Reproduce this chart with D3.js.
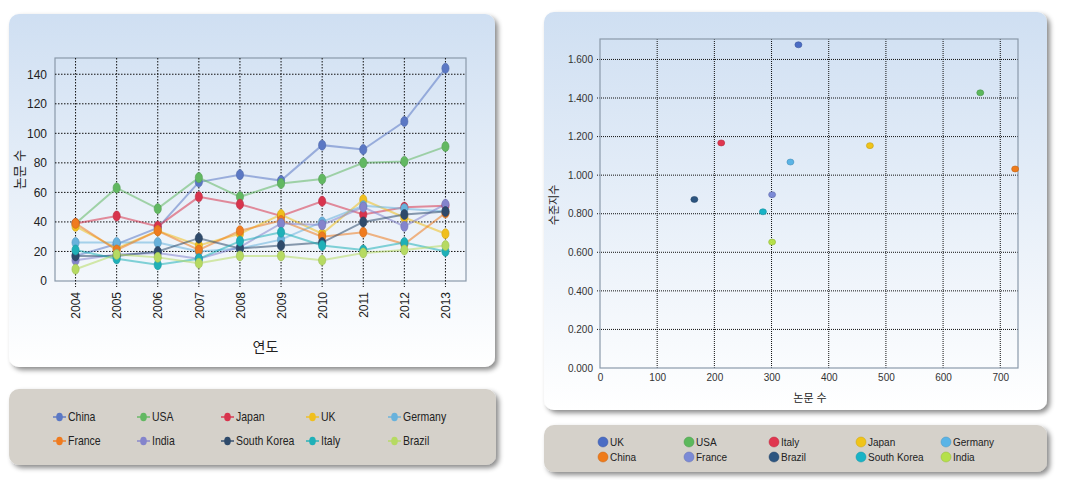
<!DOCTYPE html>
<html lang="ko">
<head>
<meta charset="utf-8">
<title>논문 수 / 수준지수</title>
<script src="https://cdn.jsdelivr.net/npm/d3@7"></script>
<style>
  body { margin:0; background:#fff; }
  svg text { font-family: "Liberation Sans", Arial, sans-serif; }
</style>
</head>
<body>
<script>
// ---- line chart data (논문 수 by 연도)
const years = [2004,2005,2006,2007,2008,2009,2010,2011,2012,2013];
const lineNames = ["China","USA","Japan","UK","Germany","France","India","South Korea","Italy","Brazil"];
const lineColors = ["#5b78c4","#62b862","#d8344d","#f0bf1e","#68b2dc","#ef7b1f","#8484cc","#2e4a6b","#1fb0b8","#b6da62"];
const china   = [17,25,36,67,72,68,92,89,108,144];
const usa     = [39,63,49,70,57,66,69,80,81,91];
const japan   = [39,44,37,57,52,44,54,45,50,51];
const uk      = [37,22,34,24,32,45,32,55,43,32];
const germany = [26,26,26,20,22,28,40,51,49,47];
const france  = [39,21,34,21,34,41,30,33,25,46];
const india   = [14,18,19,15,23,39,38,50,37,52];
const skorea  = [17,17,20,29,22,24,26,40,45,47];
const italy   = [21,15,11,15,27,33,24,21,26,20];
const brazil  = [8,18,16,12,17,17,14,19,21,24];
const lineValues = [china,usa,japan,uk,germany,france,india,skorea,italy,brazil];
const yTicksL = [0,20,40,60,80,100,120,140];

// ---- scatter data (논문 수 vs 수준지수)
const dotNames  = ["UK","USA","Italy","Japan","Germany","China","France","Brazil","South Korea","India"];
const dotColors = ["#4a6cc4","#5cb85c","#e0364f","#f0c419","#5ab4e6","#ef7b1a","#7b8ad6","#2d5580","#19b3c6","#b5e04a"];
const papers    = [347,665,212,472,333,726,301,165,285,301];
const level     = [1.676,1.427,1.167,1.153,1.068,1.032,0.899,0.874,0.810,0.653];
const xTicksR = [0,100,200,300,400,500,600,700];
const yTicksR = [0,0.2,0.4,0.6,0.8,1.0,1.2,1.4,1.6];

const W = 1065, H = 491;
const svg = d3.select("body").append("svg").attr("width",W).attr("height",H);
const defs = svg.append("defs");

const grad = defs.append("linearGradient").attr("id","panelGrad").attr("x1",0).attr("y1",0).attr("x2",0).attr("y2",1);
grad.append("stop").attr("offset","0%").attr("stop-color","#cfdff2");
grad.append("stop").attr("offset","100%").attr("stop-color","#ffffff");

const shadow = defs.append("filter").attr("id","shadow").attr("x","-5%").attr("y","-5%").attr("width","115%").attr("height","120%");
shadow.append("feDropShadow").attr("dx",3).attr("dy",3).attr("stdDeviation",2.5).attr("flood-color","#000").attr("flood-opacity",0.45);

function panel(x,y,w,h,fill){
  svg.append("rect").attr("x",x).attr("y",y).attr("width",w).attr("height",h)
    .attr("rx",10).attr("fill",fill).attr("filter","url(#shadow)");
}

panel(9,14,486,353,"url(#panelGrad)");
panel(9,389,487,76,"#d5d1ca");
panel(544,12,503,398,"url(#panelGrad)");
panel(544,425,503,47,"#d5d1ca");

// ================= LEFT: line chart =================
{
  const L = {left:55, right:466, top:58, bottom:281};
  const x = d3.scalePoint().domain(years).range([L.left,L.right]).padding(0.5);
  const y = d3.scaleLinear().domain([0,151]).range([L.bottom,L.top]);
  const g = svg.append("g");

  g.append("rect").attr("x",L.left).attr("y",L.top).attr("width",L.right-L.left).attr("height",L.bottom-L.top)
    .attr("fill","none").attr("stroke","#8a99aa").attr("stroke-width",1.2);

  g.selectAll(".hg").data(yTicksL.filter(d=>d>0)).join("line")
    .attr("x1",L.left).attr("x2",L.right).attr("y1",d=>y(d)).attr("y2",d=>y(d))
    .attr("stroke","#111").attr("stroke-dasharray","1.5,1.5").attr("stroke-width",1);
  g.selectAll(".vg").data(years).join("line")
    .attr("x1",d=>x(d)).attr("x2",d=>x(d)).attr("y1",L.top).attr("y2",L.bottom+6)
    .attr("stroke","#111").attr("stroke-dasharray","1.5,1.5").attr("stroke-width",1);

  const ya = g.append("g").attr("transform",`translate(${L.left},0)`)
    .call(d3.axisLeft(y).tickValues(yTicksL).tickSize(0).tickPadding(8));
  ya.select(".domain").remove();
  ya.selectAll("text").attr("font-size",12).attr("fill","#222");

  const xa = g.append("g").attr("transform",`translate(0,${L.bottom})`)
    .call(d3.axisBottom(x).tickSize(0).tickFormat(d3.format("d")));
  xa.select(".domain").remove();
  xa.selectAll("text").attr("font-size",12).attr("fill","#222")
    .attr("transform","rotate(-90)").attr("text-anchor","end").attr("dx","-11").attr("dy","0.35em")
    .attr("x",0).attr("y",0);

  svg.append("text").attr("transform",`translate(24,${(L.top+L.bottom)/2}) rotate(-90)`)
    .attr("text-anchor","middle").attr("font-size",13).attr("fill","#222")
    .style("font-family","'Noto Sans CJK KR', sans-serif").text("논문 수");
  svg.append("text").attr("x",(L.left+L.right)/2+5).attr("y",352)
    .attr("text-anchor","middle").attr("font-size",14).attr("fill","#222")
    .style("font-family","'Noto Sans CJK KR', sans-serif").text("연도");

  const line = d3.line().x((d,i)=>x(years[i])).y(d=>y(d));
  lineValues.forEach((vals,k)=>{
    g.append("path").attr("d",line(vals)).attr("fill","none")
      .attr("stroke",lineColors[k]).attr("stroke-width",2).attr("stroke-opacity",0.55);
  });
  lineValues.forEach((vals,k)=>{
    g.selectAll(null).data(vals).join("ellipse")
      .attr("cx",(d,i)=>x(years[i])).attr("cy",d=>y(d)).attr("rx",3.6).attr("ry",5)
      .attr("fill",lineColors[k]).attr("stroke",d3.color(lineColors[k]).darker(0.4)).attr("stroke-width",0.6);
  });

  // legend
  const cols = [53,137,221,306,388], rows = [417,441];
  const lg = svg.append("g");
  lineNames.forEach((n,k)=>{
    const cx = cols[k%5], cy = rows[Math.floor(k/5)];
    const it = lg.append("g").attr("transform",`translate(${cx},${cy})`);
    it.append("line").attr("x1",0).attr("x2",13).attr("stroke",lineColors[k]).attr("stroke-width",2).attr("stroke-opacity",0.7);
    it.append("ellipse").attr("cx",6.5).attr("rx",3.3).attr("ry",4.3).attr("fill",lineColors[k]);
    it.append("text").attr("transform","translate(15,0) scale(0.84,1)").attr("dy","0.35em")
      .attr("font-size",12.5).attr("fill","#222").text(n);
  });
}

// ================= RIGHT: scatter =================
{
  const R = {left:600, right:1018, top:39, bottom:368};
  const x = d3.scaleLinear().domain([0,731]).range([R.left,R.right]);
  const y = d3.scaleLinear().domain([0,1.706]).range([R.bottom,R.top]);
  const g = svg.append("g");

  g.selectAll(".hg").data(yTicksR.filter(d=>d>0)).join("line")
    .attr("x1",R.left-3).attr("x2",R.right).attr("y1",d=>y(d)).attr("y2",d=>y(d))
    .attr("stroke","#111").attr("stroke-dasharray","1,1").attr("stroke-width",1);
  g.selectAll(".vg").data(xTicksR.filter(d=>d>0)).join("line")
    .attr("x1",d=>x(d)).attr("x2",d=>x(d)).attr("y1",R.top).attr("y2",R.bottom)
    .attr("stroke","#111").attr("stroke-dasharray","1,1").attr("stroke-width",1);

  g.append("rect").attr("x",R.left).attr("y",R.top).attr("width",R.right-R.left).attr("height",R.bottom-R.top)
    .attr("fill","none").attr("stroke","#8a99aa").attr("stroke-width",1.2);

  const ya = g.append("g").attr("transform",`translate(${R.left},0)`)
    .call(d3.axisLeft(y).tickValues(yTicksR).tickSize(0).tickPadding(7).tickFormat(d3.format(".3f")));
  ya.select(".domain").remove();
  ya.selectAll("text").attr("font-size",10).attr("fill","#333");

  const xa = g.append("g").attr("transform",`translate(0,${R.bottom})`)
    .call(d3.axisBottom(x).tickValues(xTicksR).tickSize(0).tickPadding(6));
  xa.select(".domain").remove();
  xa.selectAll("text").attr("font-size",10).attr("fill","#333");

  svg.append("text").attr("transform",`translate(558,205) rotate(-90)`)
    .attr("text-anchor","middle").attr("font-size",11).attr("fill","#222")
    .style("font-family","'Noto Sans CJK KR', sans-serif").text("수준지수");
  svg.append("text").attr("x",810).attr("y",402)
    .attr("text-anchor","middle").attr("font-size",11).attr("fill","#222")
    .style("font-family","'Noto Sans CJK KR', sans-serif").text("논문 수");

  g.selectAll(".dot").data(papers).join("ellipse")
    .attr("cx",d=>x(d)).attr("cy",(d,i)=>y(level[i])).attr("rx",3.5).attr("ry",3)
    .attr("fill",(d,i)=>dotColors[i]).attr("stroke",(d,i)=>d3.color(dotColors[i]).darker(0.6)).attr("stroke-width",0.6);

  const cols = [603,689,774,861,946], rows = [442,457];
  dotNames.forEach((n,k)=>{
    const it = svg.append("g").attr("transform",`translate(${cols[k%5]},${rows[Math.floor(k/5)]})`);
    it.append("circle").attr("r",5).attr("fill",dotColors[k]).attr("stroke",d3.color(dotColors[k]).darker(0.5)).attr("stroke-width",0.5);
    it.append("text").attr("x",7).attr("dy","0.35em").attr("font-size",10).attr("fill","#222").text(n);
  });
}
</script>
</body>
</html>
